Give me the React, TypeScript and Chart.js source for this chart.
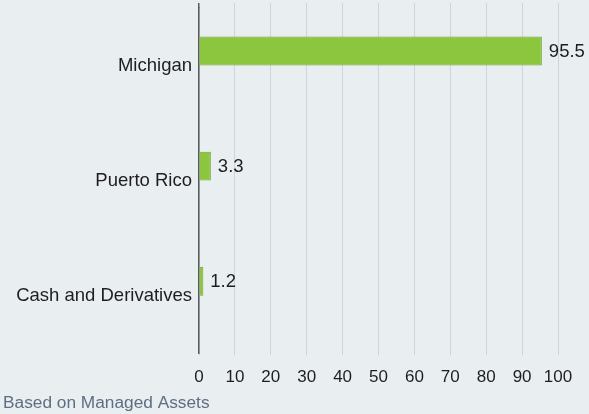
import React, { useEffect, useRef } from "react";
import { Chart, registerables } from "chart.js";

Chart.register(...registerables);

const categories = ["Michigan", "Puerto Rico", "Cash and Derivatives"];
const values = [95.5, 3.3, 1.2];
const xTicksMin = 0;
const xTicksMax = 100;
const xTickStep = 10;
const footerText = "Based on Managed Assets";

const FONT = "'Liberation Sans', Arial, Helvetica, sans-serif";
const BG = "#e9eef1";
const GRID = "#cfd4d8";
const AXIS = "#5a5a5a";
const TEXT = "#1e1e1e";

const valueLabels = {
  id: "valueLabels",
  afterDatasetsDraw(chart: any) {
    const ctx = chart.ctx;
    const meta = chart.getDatasetMeta(0);
    ctx.save();
    ctx.font = `18.5px ${FONT}`;
    ctx.fillStyle = TEXT;
    ctx.textAlign = "left";
    ctx.textBaseline = "middle";
    meta.data.forEach((bar: any, i: number) => {
      const v = values[i];
      ctx.fillText(String(v), bar.x + 7, bar.y + 1);
    });
    ctx.restore();
  },
};

export default function App() {
  const ref = useRef<HTMLCanvasElement>(null);

  useEffect(() => {
    document.body.style.margin = "0";
    document.body.style.background = BG;
    const canvas = ref.current!;
    const chart = new Chart(canvas, {
      type: "bar",
      data: {
        labels: categories,
        datasets: [
          {
            label: "Allocation",
            data: values,
            backgroundColor: "#8cc63f",
            borderColor: "#72a532",
            borderWidth: 1,
            barPercentage: 1,
            categoryPercentage: 0.503,
          },
          {
            label: "",
            data: [null, null, null],
            barPercentage: 1,
            categoryPercentage: 0.503,
          },
        ],
      },
      options: {
        indexAxis: "y",
        animation: false,
        responsive: false,
        maintainAspectRatio: false,
        layout: { padding: { top: 3, left: 3, right: 31, bottom: 0 } },
        plugins: {
          legend: { display: false },
          tooltip: { enabled: false },
          title: {
            display: true,
            text: footerText,
            position: "bottom",
            align: "start",
            color: "#5d6f82",
            font: { family: FONT, size: 17.3, weight: "normal" },
            padding: { top: 0, bottom: 0 },
          },
        },
        scales: {
          x: {
            type: "linear",
            position: "bottom",
            min: xTicksMin,
            max: xTicksMax,
            ticks: {
              stepSize: xTickStep,
              color: TEXT,
              font: { family: FONT, size: 17 },
              padding: 12,
              maxRotation: 0,
            },
            grid: { color: GRID, lineWidth: 1, tickLength: 2 },
            border: { display: false },
            afterFit: (s: any) => {
              s.height = 40;
              s.paddingLeft = 0;
            },
          },
          x2: {
            type: "linear",
            axis: "x",
            position: "top",
            min: xTicksMin,
            max: xTicksMax,
            ticks: { stepSize: xTickStep, display: false },
            grid: {
              drawOnChartArea: false,
              tickLength: 5,
              color: (c: any) => (c.tick && c.tick.value === 0 ? AXIS : GRID),
              lineWidth: (c: any) => (c.tick && c.tick.value === 0 ? 1.5 : 1),
            },
            border: { display: false },
            afterFit: (s: any) => {
              s.height = 5;
              s.paddingLeft = 0;
              s.paddingRight = 0;
            },
          },
          y: {
            type: "category",
            position: "left",
            grid: { display: false, drawTicks: false, tickLength: 0 },
            border: { display: true, color: AXIS, width: 1.5 },
            ticks: {
              color: TEXT,
              font: { family: FONT, size: 18.5 },
              padding: 7,
            },
            afterFit: (s: any) => {
              s.width = 196;
              s.paddingTop = 0;
              s.paddingBottom = 0;
            },
          },
        },
      },
      plugins: [valueLabels],
    });
    return () => chart.destroy();
  }, []);

  return (
    <div style={{ width: 589, height: 414, background: BG }}>
      <canvas ref={ref} width={589} height={414} style={{ display: "block" }} />
    </div>
  );
}
